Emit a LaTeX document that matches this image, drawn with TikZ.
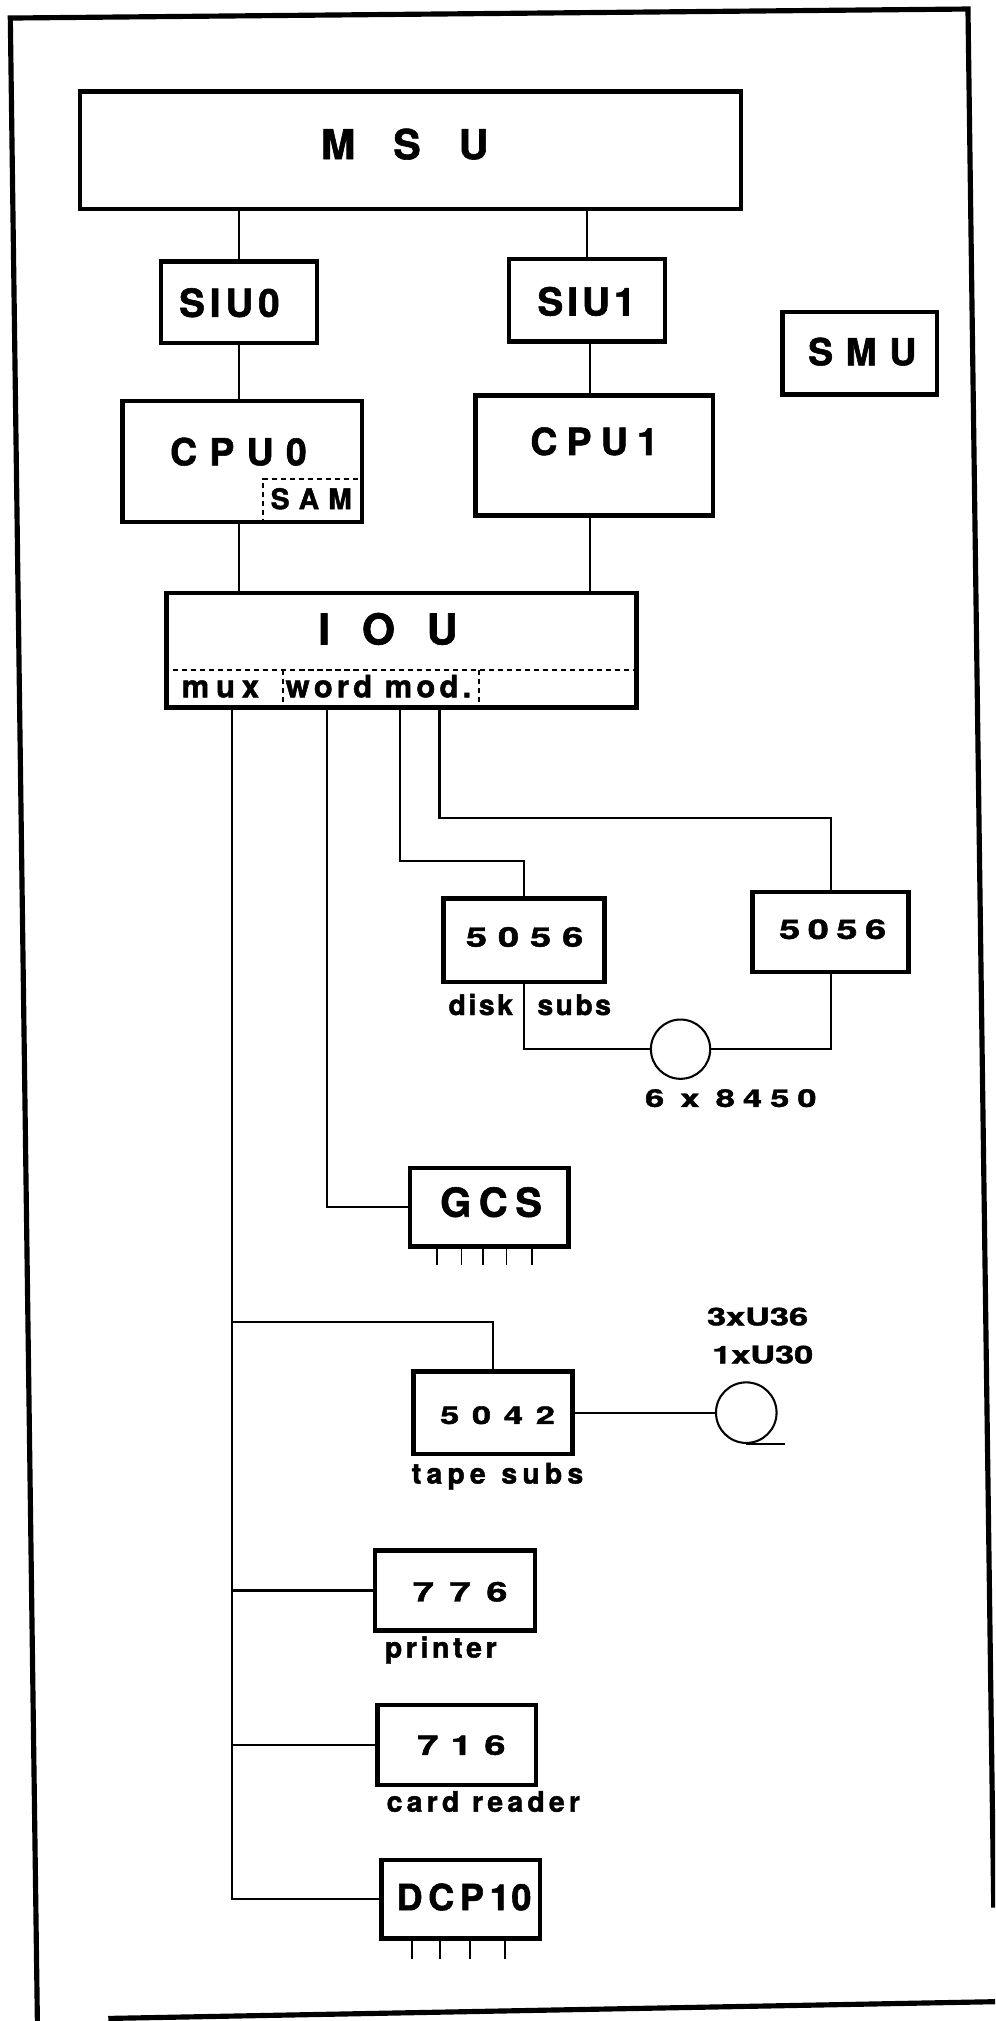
\documentclass[tikz,border=0pt]{standalone}
\usepackage{fontspec}
\usepackage{graphicx}
\setmainfont{TeX Gyre Heros}[BoldFeatures={FakeBold=1.5}]
\newcommand\fs[1]{\fontsize{#1}{#1}\selectfont\bfseries}
\newcommand\spread[2]{\makebox[#1pt][s]{#2}}
\newcommand\wspread[2]{\scalebox{1.4}[1]{\makebox[\dimexpr #1pt*10/14\relax][s]{#2}}}
\newcommand\wgap{\hskip 0pt plus 3fil\relax}
\tikzset{
  box/.style={draw, line width=3.5pt, inner sep=0pt},
  conn/.style={line width=1.6pt},
  dashln/.style={line width=1.6pt, dash pattern=on 4pt off 3pt},
  frame/.style={line width=4pt},
  txt/.style={inner sep=0pt, anchor=base},
  pinln/.style={line width=1.4pt},
}
\newcommand\boxnode[5]{\node[box, minimum width={#4pt-#2pt}, minimum height={#5pt-#3pt}] (#1) at ({(#2+#4)/2},{(#3+#5)/2}) {};}
\begin{document}
\begin{tikzpicture}[x=1pt,y=-1pt]
\useasboundingbox (0,0) rectangle (772,1568);
% frame
\begin{scope}
\clip (0,0) rectangle (772,1568);
\draw[frame] (29,1568) -- (8,14) -- (751,7) -- (771,1480);
\draw[frame] (84,1566) -- (772,1553);
\end{scope}
% boxes
\boxnode{msu}{62}{71}{575}{162}
\boxnode{siu0}{125}{203}{246}{266}
\boxnode{siu1}{395}{201}{516}{265}
\boxnode{smu}{607}{242}{727}{306}
\boxnode{cpu0}{95}{311}{281}{405}
\boxnode{cpu1}{369}{307}{553}{400}
\boxnode{iou}{129}{460}{494}{549}
\boxnode{da}{344}{697}{469}{762}
\boxnode{db}{584}{692}{705}{754}
\boxnode{gcs}{318}{906}{441}{967}
\boxnode{tp}{321}{1064}{444}{1128}
\boxnode{pr}{291}{1203}{415}{1265}
\boxnode{cr}{293}{1323}{416}{1385}
\boxnode{dcp}{296}{1443}{419}{1504}
\node[circle, draw, line width=1.6pt, minimum size=46pt, inner sep=0pt] (dk) at (528,814) {};
\node[circle, draw, line width=1.6pt, minimum size=47pt, inner sep=0pt] (tc) at (579,1096) {};
% texts
\node[txt, font=\fs{32}] (tmsu) at (314,123.5) {\spread{130}{M\hfill S\hfill U}};
\node[txt, font=\fs{30}] (tsiu0) at (178,245.8) {\spread{78}{S\hfill I\hfill U\hfill 0}};
\node[txt, font=\fs{30}] (tsiu1) at (455,244.8) {\spread{76}{S\hfill I\hfill U\hfill 1}};
\node[txt, font=\fs{29}] (tsmu) at (669,283.4) {\spread{84}{S\hfill M\hfill U}};
\node[txt, font=\fs{29}] (tcpu0) at (185,361) {\spread{106}{C\hfill P\hfill U\hfill 0}};
\node[txt, font=\fs{29}] (tcpu1) at (461,353) {\spread{99}{C\hfill P\hfill U\hfill 1}};
\node[txt, font=\fs{22}] (tsam) at (241.5,395) {\spread{63}{S\hfill A\hfill M}};
\node[txt, font=\fs{33}] (tiou) at (301,500) {\spread{108}{I\hfill O\hfill U}};
\node[txt, font=\fs{24}] (tmux) at (171,541) {\spread{60}{m\hfill u\hfill x}};
\node[txt, font=\fs{24}] (tword) at (293.6,541) {\spread{144}{w\hfil o\hfil r\hfil d\wgap m\hfil o\hfil d\hfil .}};
\node[txt, font=\fs{21}] (tda) at (407,734.5) {\wspread{91}{5\hfill 0\hfill 5\hfill 6}};
\node[txt, font=\fs{21}] (tdb) at (646,728.5) {\wspread{83}{5\hfill 0\hfill 5\hfill 6}};
\node[txt, font=\fs{22}] (tdisk) at (373,787.5) {\spread{50}{d\hfil i\hfil s\hfil k}};
\node[txt, font=\fs{22}] (tsubs) at (445.5,787.5) {\spread{57}{s\hfil u\hfil b\hfil s}};
\node[txt, font=\fs{19}] (tdk) at (567,858.8) {\wspread{133}{6\hfil\hfil x\hfil\hfil 8\hfil 4\hfil 5\hfil 0}};
\node[txt, font=\fs{31}] (tgcs) at (381,944) {\spread{79}{G\hfill C\hfill S}};
\node[txt, font=\fs{19}] (ttc1) at (576.3,1028.3) {\wspread{55.4}{3\hfill x\hfill U\hfill 3\hfill 6}};
\node[txt, font=\fs{19}] (ttc2) at (578.3,1057.8) {\wspread{51.4}{1\hfill x\hfill U\hfill 3\hfill 0}};
\node[txt, font=\fs{19}] (ttp) at (386,1104.8) {\wspread{89}{5\hfill 0\hfill 4\hfill 2}};
\node[txt, font=\fs{22}] (ttape) at (386,1151) {\spread{133}{t\hfil a\hfil p\hfil e\wgap s\hfil u\hfil b\hfil s}};
\node[txt, font=\fs{21}] (tpr) at (357,1242.5) {\wspread{73.4}{7\hfill 7\hfill 6}};
\node[txt, font=\fs{22}] (tprinter) at (342,1286) {\spread{86.7}{p\hfil r\hfil i\hfil n\hfil t\hfil e\hfil r}};
\node[txt, font=\fs{21}] (tcr) at (358,1361.5) {\wspread{68.3}{7\hfill 1\hfill 6}};
\node[txt, font=\fs{22}] (tcard) at (375,1405.6) {\spread{150}{c\hfil a\hfil r\hfil d\wgap r\hfil e\hfil a\hfil d\hfil e\hfil r}};
\node[txt, font=\fs{28}] (tdcp) at (360,1482) {\spread{104.7}{D\hfil C\hfil P\hfil 1\hskip 0pt plus 0.3fil 0}};
% dashed sub-parts
\coordinate (samx) at (203.7,0);
\coordinate (samy) at (0,371.7);
\draw[dashln] (cpu0.south -| samx) -- (samx |- samy) -- (cpu0.east |- samy);
\coordinate (iouy) at (0,520);
\coordinate (m1) at (219.7,0);
\coordinate (m2) at (371.6,0);
\draw[dashln] (iou.west |- iouy) -- (iou.east |- iouy);
\draw[dashln] (m1 |- iouy) -- (iou.south -| m1);
\draw[dashln] (m2 |- iouy) -- (iou.south -| m2);
% connectors
\coordinate (c1) at (458,0);
\draw[conn] (msu.south -| siu0.north) -- (siu0.north);
\draw[conn] (msu.south -| siu1.north) -- (siu1.north);
\draw[conn] (siu0.south) -- (siu0.south |- cpu0.north);
\draw[conn] (siu1.south -| c1) -- (cpu1.north -| c1);
\draw[conn] (cpu0.south -| siu0.south) -- (iou.north -| siu0.south);
\draw[conn] (cpu1.south -| c1) -- (iou.north -| c1);
% mux bus
\coordinate (bx) at (180,0);
\coordinate (j1) at (180,1026);
\draw[conn] (iou.south -| bx) -- (bx |- dcp.west) -- (dcp.west);
\draw[conn] (bx |- pr.west) -- (pr.west);
\draw[conn] (bx |- cr.west) -- (cr.west);
\draw[conn] (j1) -| (tp.north);
% word mod lines
\coordinate (wx) at (254,0);
\coordinate (c3) at (310,0);
\coordinate (c4) at (341,0);
\coordinate (k1) at (0,668);
\coordinate (k2) at (0,635);
\draw[conn] (iou.south -| wx) |- (gcs.west);
\draw[conn] (iou.south -| c3) |- (da.north |- k1) -- (da.north);
\draw[conn] (iou.south -| c4) |- (db.north |- k2) -- (db.north);
\draw[conn] (da.south) |- (dk.west);
\draw[conn] (dk.east) -| (db.south);
\draw[conn] (tp.east) -- (tc.west);
\draw[conn] (tc.south) -- ++(30,0) coordinate (tail);
% pins
\foreach \px in {339,358,375,393,413} \draw[pinln] (gcs.south -| \px,0) -- ++(0,13);
\foreach \px in {319.4,341.4,364.6,391.8} \draw[pinln] (dcp.south -| \px,0) -- ++(0,14);
\end{tikzpicture}
\end{document}
